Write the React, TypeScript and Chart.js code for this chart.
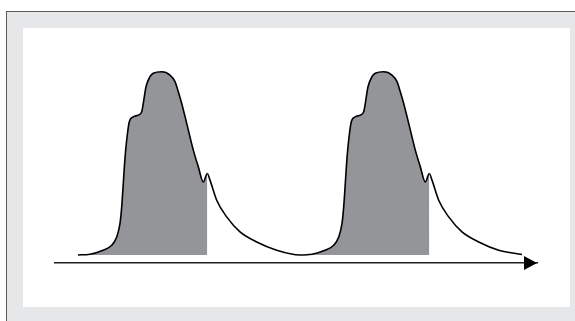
import React, { useEffect, useRef } from "react";
import { Chart, registerables } from "chart.js";

Chart.register(...registerables);

// time (arbitrary units) and amplitude (% of peak) for two cycles
const times: number[] = [
  23, 35, 48, 56.7, 61.7, 65, 66.7, 68.3, 70, 71.7, 74.3, 78.3, 83.3, 86.7, 88.3, 91, 95, 98.3,
  106.7, 115, 120, 123.3, 126.7, 131.7, 138.3, 143.3, 148.3, 152.3, 155, 161.7, 171.7, 185,
  201.7, 221.7,
  245, 257, 270, 278.7, 283.7, 287, 288.7, 290.3, 292, 293.7, 296.3, 300.3, 305.3, 308.7, 310.3,
  313, 317, 320.3, 328.7, 337, 342, 345.3, 348.7, 353.7, 360.3, 365.3, 370.3, 374.3, 377, 383.7,
  393.7, 407, 423.7, 443.7, 467,
];
const amplitudes: number[] = [
  0, 0.4, 2.6, 5.3, 9.8, 17.2, 26.3, 39.1, 52.9, 62.8, 72.8, 75.5, 76.4, 78.2, 82.8, 91.9, 97.4,
  99.3, 100.1, 98.3, 94.7, 89.2, 82.8, 71.9, 57.3, 48.2, 39.9, 44.5, 40.9, 29.9, 20.8, 12.6,
  7.1, 2.6,
  0, 0.4, 2.6, 5.3, 9.8, 17.2, 26.3, 39.1, 52.9, 62.8, 72.8, 75.5, 76.4, 78.2, 82.8, 91.9, 97.4,
  99.3, 100.1, 98.3, 94.7, 89.2, 82.8, 71.9, 57.3, 48.2, 39.9, 44.5, 40.9, 29.9, 20.8, 12.6,
  7.1, 2.6, 0.2,
];
// shaded time windows under the curve
const shadedStarts: number[] = [23, 245];
const shadedEnds: number[] = [152.3, 374.3];
const xLimits: number[] = [0, 482];
const yLimits: number[] = [-4.4, 112];

const FILL = "#939598";

const arrowPlugin = {
  id: "axisArrow",
  afterDraw(chart: any) {
    const xs = chart.scales.x;
    const ctx = chart.ctx;
    const y = xs.top;
    const tip = xs.right;
    ctx.save();
    ctx.fillStyle = "#000000";
    ctx.beginPath();
    ctx.moveTo(tip, y);
    ctx.lineTo(tip - 13, y - 7);
    ctx.lineTo(tip - 13, y + 7);
    ctx.closePath();
    ctx.fill();
    ctx.restore();
  },
};

function inShaded(a: number, b: number) {
  for (let i = 0; i < shadedStarts.length; i++) {
    if (a >= shadedStarts[i] - 0.01 && b <= shadedEnds[i] + 0.01) return true;
  }
  return false;
}

export default function App() {
  const ref = useRef<HTMLCanvasElement | null>(null);

  useEffect(() => {
    if (!ref.current) return;
    const data = times.map((t, i) => ({ x: t, y: amplitudes[i] }));
    const chart = new Chart(ref.current, {
      type: "line",
      data: {
        datasets: [
          {
            data,
            borderColor: "#000000",
            borderWidth: 1.6,
            pointRadius: 0,
            tension: 0.4,
            cubicInterpolationMode: "monotone",
            fill: "origin",
            backgroundColor: "rgba(0,0,0,0)",
            segment: {
              backgroundColor: (ctx: any) =>
                inShaded(ctx.p0.parsed.x, ctx.p1.parsed.x) ? FILL : "rgba(0,0,0,0)",
            },
          } as any,
        ],
      },
      options: {
        responsive: false,
        animation: false,
        devicePixelRatio: 1,
        layout: { padding: { left: 55, right: 38, top: 50, bottom: 58 } },
        plugins: {
          legend: { display: false },
          tooltip: { enabled: false },
        },
        scales: {
          x: {
            type: "linear",
            min: xLimits[0],
            max: xLimits[1],
            display: true,
            grid: { display: false, drawTicks: false },
            ticks: { display: false },
            border: { display: true, color: "#231f20", width: 1.5 },
            afterFit: (s: any) => {
              s.height = 0;
            },
          },
          y: {
            type: "linear",
            min: yLimits[0],
            max: yLimits[1],
            display: false,
          },
        },
      },
      plugins: [arrowPlugin],
    });
    return () => chart.destroy();
  }, []);

  return (
    <div style={{ position: "absolute", left: 0, top: 0, width: 575, height: 321, overflow: "hidden" }}>
      <div
        style={{
          position: "absolute",
          left: 6,
          top: 11,
          width: 569,
          height: 310,
          boxSizing: "border-box",
          background: "#e6e7e8",
          borderTop: "1.5px solid #5a5b5d",
          borderLeft: "1.5px solid #5a5b5d",
        }}
      />
      <div
        style={{
          position: "absolute",
          left: 23,
          top: 28,
          width: 547,
          height: 278.5,
          background: "#ffffff",
        }}
      />
      <canvas
        ref={ref}
        width={575}
        height={321}
        style={{ position: "absolute", left: 0, top: 0, width: 575, height: 321, display: "block" }}
      />
    </div>
  );
}
